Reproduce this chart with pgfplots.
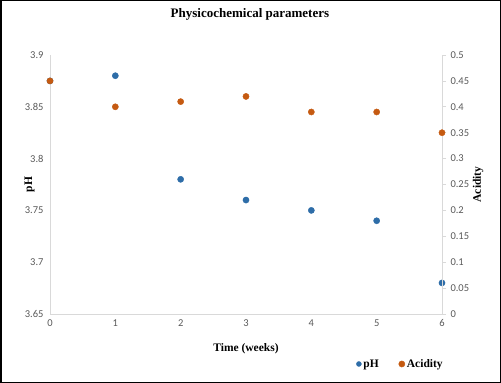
\documentclass[border=0pt]{standalone}
\usepackage{pgfplots}
\pgfplotsset{compat=1.18}
\usepackage{fontspec}
\setmainfont{Liberation Serif}
\newfontfamily\tickfont{Carlito}
\definecolor{phblue}{HTML}{2E6DA8}
\definecolor{acorange}{HTML}{C55A11}
\definecolor{ticktext}{HTML}{595959}
\definecolor{axgray}{HTML}{D9D9D9}
\begin{document}
\begin{tikzpicture}
\useasboundingbox (0,0) rectangle (501bp,383bp);
\draw[line width=1.5bp] (0.75bp,0.75bp) rectangle (500.25bp,382.25bp);
\begin{axis}[
  at={(50bp,69bp)}, anchor=south west,
  scale only axis, width=392bp, height=259bp,
  xmin=0, xmax=6, ymin=3.65, ymax=3.9,
  axis y line*=left, axis x line*=bottom,
  axis line style={draw=axgray, line width=0.8bp},
  xtick={0,1,2,3,4,5,6},
  ytick={3.65,3.7,3.75,3.8,3.85,3.9},
  yticklabels={3.65,3.7,3.75,3.8,3.85,3.9},
  tick style={draw=none},
  /pgf/number format/assume math mode=true,
  ticklabel style={font=\tickfont\fontsize{10.5bp}{12bp}\selectfont, text=ticktext},
  xticklabel style={yshift=-2bp},
  yticklabel style={xshift=-3bp},
  title={Physicochemical parameters},
  title style={font=\bfseries\fontsize{13bp}{15bp}\selectfont, at={(rel axis cs:0.51,1.0)}, anchor=base, yshift=32bp},
  xlabel={Time (weeks)},
  xlabel style={font=\bfseries\fontsize{11.5bp}{13bp}\selectfont, at={(rel axis cs:0.5,0)}, anchor=base, yshift=-38bp},
  ylabel={pH},
  ylabel style={font=\bfseries\fontsize{11.5bp}{13bp}\selectfont, at={(rel axis cs:-0.052,0.5)}, anchor=center},
  clip=false,
]
\addplot[only marks, mark=*, mark size=3.1bp, color=phblue, mark options={draw=phblue, fill=phblue}] coordinates {
  (0,3.875) (1,3.88) (2,3.78) (3,3.76) (4,3.75) (5,3.74) (6,3.68)
};
\end{axis}
\begin{axis}[
  at={(50bp,69bp)}, anchor=south west,
  scale only axis, width=392bp, height=259bp,
  xmin=0, xmax=6, ymin=0, ymax=0.5,
  axis y line*=right, axis x line=none,
  axis line style={draw=axgray, line width=0.8bp},
  ytick={0,0.05,0.1,0.15,0.2,0.25,0.3,0.35,0.4,0.45,0.5},
  yticklabels={0,0.05,0.1,0.15,0.2,0.25,0.3,0.35,0.4,0.45,0.5},
  ytick style={draw=axgray, line width=0.8bp},
  tick align=outside, major tick length=4bp,
  /pgf/number format/assume math mode=true,
  ticklabel style={font=\tickfont\fontsize{10.5bp}{12bp}\selectfont, text=ticktext},
  yticklabel style={xshift=1bp},
  legend style={at={(rel axis cs:1.015,-0.193)}, anchor=east, draw=none, fill=none,
    font=\bfseries\fontsize{11.5bp}{13bp}\selectfont, legend columns=2,
    /tikz/every even column/.append style={column sep=18bp}},
  legend cell align=left,
  clip=false,
]
\addlegendimage{only marks, mark=*, mark size=2.5bp, color=phblue, mark options={draw=phblue, fill=phblue}}
\addlegendentry{pH}
\addplot[only marks, mark=*, mark size=3.1bp, color=acorange, mark options={draw=acorange, fill=acorange}] coordinates {
  (0,0.45) (1,0.40) (2,0.41) (3,0.42) (4,0.39) (5,0.39) (6,0.35)
};
\addlegendentry{Acidity}
\node[rotate=90, anchor=center, font=\bfseries\fontsize{11.5bp}{13bp}\selectfont] at (rel axis cs:1.092,0.5) {Acidity};
\end{axis}
\end{tikzpicture}
\end{document}
